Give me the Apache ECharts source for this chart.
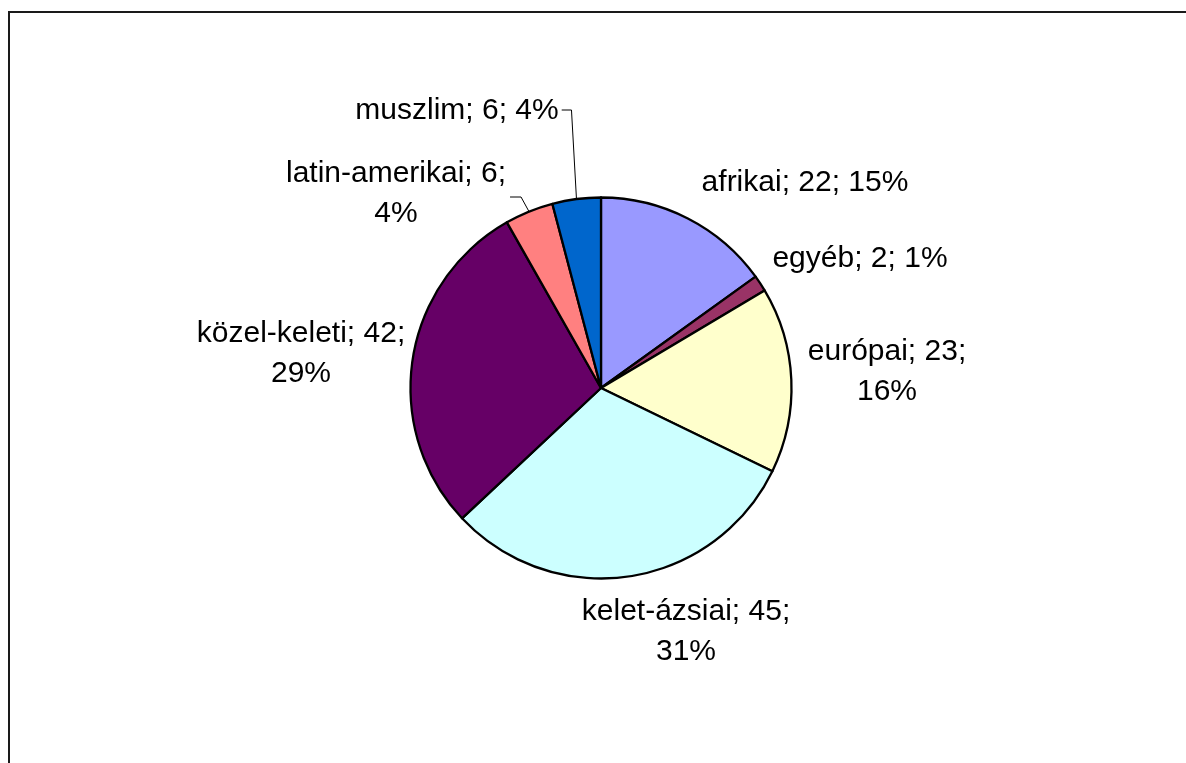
<!DOCTYPE html>
<html>
<head>
<meta charset="utf-8">
<script src="https://cdn.jsdelivr.net/npm/echarts@6/dist/echarts.min.js"></script>
<style>
html,body{margin:0;padding:0;background:#fff;}
#chart{width:1186px;height:763px;}
</style>
</head>
<body>
<div id="chart"></div>
<script>
// ---- data ----
const categories = ['afrikai', 'egyéb', 'európai', 'kelet-ázsiai', 'közel-keleti', 'latin-amerikai', 'muszlim'];
const values = [22, 2, 23, 45, 42, 6, 6];
const colors = ['#9999FF', '#993366', '#FFFFCC', '#CCFFFF', '#660066', '#FF8080', '#0066CC'];
const wrappedLabels = ['európai', 'kelet-ázsiai', 'közel-keleti', 'latin-amerikai'];
const leaderLabels = ['latin-amerikai', 'muszlim'];

// ---- label placement (pixel centres of label blocks) ----
const labelPos = {
  'afrikai': [805, 183],
  'egyéb': [860, 259],
  'európai': [887, 372],
  'kelet-ázsiai': [686, 632],
  'közel-keleti': [301, 354],
  'latin-amerikai': [396, 194],
  'muszlim': [457, 111]
};

const chart = echarts.init(document.getElementById('chart'), null, {renderer: 'canvas'});

const data = categories.map((c, i) => ({
  name: c,
  value: values[i],
  itemStyle: {color: colors[i]},
  labelLine: {show: leaderLabels.indexOf(c) >= 0}
}));

const option = {
  backgroundColor: '#ffffff',
  animation: false,
  graphic: [{
    type: 'rect',
    shape: {x: 9, y: 12, width: 1300, height: 900},
    style: {fill: 'none', stroke: '#1a1a1a', lineWidth: 2},
    silent: true,
    z: 0
  }],
  series: [{
    type: 'pie',
    center: [601, 388],
    radius: 190.5,
    startAngle: 90,
    clockwise: true,
    percentPrecision: 0,
    avoidLabelOverlap: false,
    itemStyle: {borderColor: '#000', borderWidth: 2.3},
    label: {
      show: true,
      position: 'outside',
      color: '#000',
      fontFamily: 'Liberation Sans, Arial, Helvetica, sans-serif',
      fontSize: 30,
      lineHeight: 40,
      align: 'center',
      formatter: function (p) {
        const sep = wrappedLabels.indexOf(p.name) >= 0 ? '\n' : ' ';
        return p.name + '; ' + p.value + ';' + sep + p.percent + '%';
      }
    },
    labelLine: {
      show: false,
      lineStyle: {color: '#000', width: 1},
      length: 10,
      length2: 10
    },
    labelLayout: function (params) {
      const name = categories[params.dataIndex];
      const pos = labelPos[name];
      const w = params.labelRect.width;
      const res = {x: pos[0], y: pos[1], align: 'center', verticalAlign: 'middle'};
      if (leaderLabels.indexOf(name) >= 0 && params.labelLinePoints) {
        const a = params.labelLinePoints[0];
        if (name === 'muszlim') {
          const ly = pos[1] - 1;
          res.labelLinePoints = [a, [a[0] - 5, ly], [pos[0] + w / 2 + 3, ly]];
        } else {
          const ly = pos[1] + 3;
          res.labelLinePoints = [a, [a[0] - 8, ly], [pos[0] + w / 2 + 4, ly]];
        }
      }
      return res;
    },
    data: data
  }]
};
chart.setOption(option);
</script>
</body>
</html>
